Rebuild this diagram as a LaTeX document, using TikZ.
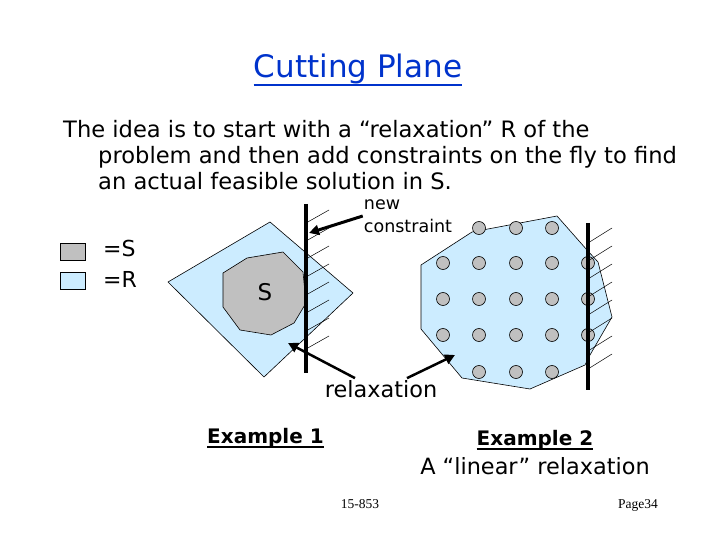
\documentclass[tikz,border=0pt]{standalone}
\usepackage{fontspec}
\setmainfont{DejaVu Sans}
\newfontfamily\footfont{Liberation Serif}
\usetikzlibrary{calc,arrows.meta}
\definecolor{relaxblue}{RGB}{204,236,255}
\definecolor{solgray}{RGB}{192,192,192}
\definecolor{titleblue}{RGB}{0,51,204}
\newcommand{\sz}[1]{\fontsize{#1}{#1}\selectfont}

\begin{document}
\begin{tikzpicture}[x=1pt,y=-1pt,
  region/.style={draw=black,line width=0.6pt},
  cutline/.style={line width=4pt},
  hatch/.style={line width=0.5pt},
  lattice/.style={circle,draw=black,fill=solgray,line width=0.6pt,minimum size=13pt,inner sep=0pt},
  pointer/.style={line width=3pt,-{Triangle[length=10pt,width=10pt]}},
  txt/.style={inner sep=0pt,anchor=base west}]
\useasboundingbox[fill=white] (0,0) rectangle (720,540);
% title and text
\node[titleblue,inner sep=0pt,anchor=base,font=\sz{31}] (title) at (358,78) {Cutting Plane};
\draw[titleblue,line width=2pt] ([yshift=-7.5pt]title.base west) -- ([yshift=-7.5pt]title.base east);
\node[txt,font=\sz{22.6}] (line1) at (63,138) {The idea is to start with a “relaxation” R of the};
\node[txt,font=\sz{22.6}] (line2) at (98,164) {problem and then add constraints on the fly to find};
\node[txt,font=\sz{22.6}] (line3) at (98,190) {an actual feasible solution in S.};
% legend
\node[draw=black,fill=solgray,line width=0.6pt,minimum width=25pt,minimum height=17pt,inner sep=0pt] (keyS) at (72.5,251.5) {};
\node[draw=black,fill=relaxblue,line width=0.6pt,minimum width=25pt,minimum height=17pt,inner sep=0pt] (keyR) at (72.5,281) {};
\node[txt,font=\sz{22}] (eqS) at (103,256) {=S};
\node[txt,font=\sz{22}] (eqR) at (103,287) {=R};
% example 1
\draw[region,fill=relaxblue] (168,282) -- (270,222) -- (353,293) -- (264,377) -- cycle;
\draw[region,fill=solgray] (223,273) -- (247,258) -- (283,252) -- (303,272) -- (306,303) -- (294,323) -- (271,335) -- (240,330) -- (223,307) -- cycle;
\node[font=\sz{23}] (setS) at (265,292) {S};
\foreach \y in {223,241,...,349} \draw[hatch] (306,\y) -- ++(23,-13);
\draw[cutline] (306,204) -- (306,373);
\coordinate (cutpt) at (309,233);
\coordinate (relaxA) at (288,343);
% example 2
\draw[region,fill=relaxblue] (421,265) -- (472,232) -- (557,216) -- (587,250) -- (598,262) -- (612,317) -- (590,355) -- (585,365) -- (530,389) -- (462,378) -- (421,329) -- cycle;
\foreach \x in {479,516,552} {
  \node[lattice] at (\x,228) {};
  \node[lattice] at (\x,372) {};
}
\foreach \y in {263,299,335}
  \foreach \x in {443,479,516,552,588} \node[lattice] at (\x,\y) {};
\foreach \y in {243,261,...,369} \draw[hatch] (588,\y) -- ++(24,-15);
\draw[cutline] (588,223) -- (588,390);
\coordinate (relaxB) at (455,355);
% labels and arrows
\node[inner sep=1pt,align=left,font=\sz{17.5}] (newc) at (408,216) {new\\[5pt]constraint};
\draw[pointer] (newc.west) -- (cutpt);
\node[font=\sz{22.4},inner sep=2pt] (relax) at (381,389) {relaxation};
\draw[pointer,line width=2.5pt] ([xshift=-26pt]relax.north) -- (relaxA);
\draw[pointer,line width=2.5pt] ([xshift=26pt]relax.north) -- (relaxB);
\node[txt,font=\bfseries\sz{20}] (ex1) at (207,443) {Example 1};
\draw[line width=1.8pt] ([yshift=-4pt]ex1.base west) -- ([yshift=-4pt]ex1.base east);
\node[inner sep=0pt,anchor=base,font=\bfseries\sz{20}] (ex2) at (535,445) {Example 2};
\draw[line width=1.8pt] ([yshift=-4pt]ex2.base west) -- ([yshift=-4pt]ex2.base east);
\node[inner sep=0pt,anchor=base,font=\sz{22.4}] (lin) at (535,474) {A “linear” relaxation};
% footer
\node[inner sep=0pt,anchor=base,font=\footfont\sz{13.5}] (course) at (360,508) {15-853};
\node[inner sep=0pt,anchor=base,font=\footfont\sz{13.5}] (page) at (638,508) {Page34};
\end{tikzpicture}
\end{document}
